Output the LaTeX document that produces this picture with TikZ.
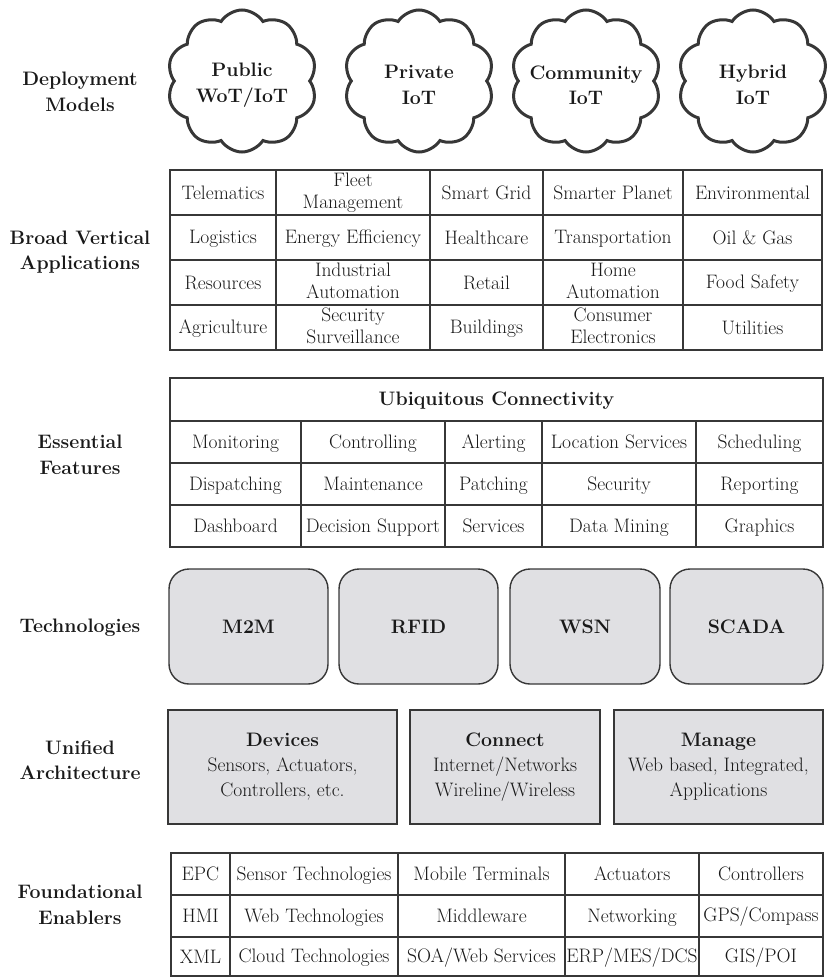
\documentclass[tikz,border=0pt]{standalone}
\usepackage{fontspec}
\usepackage{xcolor}
\usepackage{tikz}
\usetikzlibrary{shapes.symbols, positioning}
\definecolor{linegray}{RGB}{55,55,55}
\definecolor{boxgray}{RGB}{224,224,227}
\definecolor{inkblack}{RGB}{25,25,25}
\newcommand\cellfont{\fontsize{19.5}{22}\selectfont}
\newcommand\headfont{\fontsize{19.5}{25.5}\selectfont\bfseries}

\begin{document}
\begin{tikzpicture}[x=1pt, y=-1pt, text=inkblack,
    layerlabel/.style={align=center, font=\headfont},
    cellbox/.style={draw=linegray, line width=1.9pt, inner sep=0pt, align=center, font=\cellfont,
        execute at begin node={\rule{0pt}{16pt}}, execute at end node={\rule[-3pt]{0pt}{3pt}}},
    modelcloud/.style={cloud, cloud puffs=10, cloud puff arc=115, aspect=1, draw=linegray, line width=3pt,
        minimum width=150pt, minimum height=142pt, inner sep=0pt},
    cloudtext/.style={align=center, font=\headfont},
    techbox/.style={draw=linegray, fill=boxgray, line width=1.4pt, rounded corners=20pt, font=\headfont},
    archbox/.style={draw=linegray, fill=boxgray, line width=2pt, align=center, font=\fontsize{19.5}{25}\selectfont}]
    \useasboundingbox (0,0) rectangle (829,978);

    % layer names
    \node[layerlabel] (lab-dep) at (80,92) {Deployment\\Models};
    \node[layerlabel] (lab-app) at (80,252) {Broad Vertical\\Applications};
    \node[layerlabel] (lab-feat) at (80,455) {Essential\\Features};
    \node[layerlabel] (lab-tech) at (80,628) {Technologies};
    \node[layerlabel] (lab-arch) at (80,760) {Unified\\Architecture};
    \node[layerlabel] (lab-enab) at (80,905) {Foundational\\Enablers};

    % deployment models
    \foreach \name/\cx/\txt in {pub/242/{Public\\WoT/IoT}, priv/419/{Private\\IoT},
                                comm/586/{Community\\IoT}, hyb/753/{Hybrid\\IoT}} {
        \node[modelcloud] (cloud-\name) at (\cx,81) {};
        \node[cloudtext] (model-\name) at (\cx,85) {\txt};
    }

    % broad vertical applications
    \foreach \row/\ya/\yb/\ta/\tb/\tc/\td/\te in {
        1/170/215/Telematics/{Fleet\\Management}/Smart Grid/Smarter Planet/Environmental,
        2/215/260/Logistics/Energy Efficiency/Healthcare/Transportation/Oil \& Gas,
        3/260/305/Resources/{Industrial\\Automation}/Retail/{Home\\Automation}/Food Safety,
        4/305/350/Agriculture/{Security\\Surveillance}/Buildings/{Consumer\\Electronics}/Utilities} {
        \foreach \col/\xa/\xb/\txt in {1/170/276/\ta, 2/276/430/\tb, 3/430/543/\tc, 4/543/683/\td, 5/683/822/\te}
            \node[cellbox, minimum width={(\xb-\xa)*1pt}, minimum height={(\yb-\ya)*1pt}]
                (app-\row-\col) at ({(\xa+\xb)/2},{(\ya+\yb)/2}) {\txt};
    }

    % essential features
    \node[cellbox, font=\headfont, minimum width=653pt, minimum height=43pt] (feat-head) at (496.5,399.5) {Ubiquitous Connectivity};
    \foreach \row/\ya/\yb/\ta/\tb/\tc/\td/\te in {
        1/421/463/Monitoring/Controlling/Alerting/Location Services/Scheduling,
        2/463/505/Dispatching/Maintenance/Patching/Security/Reporting,
        3/505/547/Dashboard/Decision Support/Services/Data Mining/Graphics} {
        \foreach \col/\xa/\xb/\txt in {1/170/301/\ta, 2/301/445/\tb, 3/445/542/\tc, 4/542/696/\td, 5/696/823/\te}
            \node[cellbox, minimum width={(\xb-\xa)*1pt}, minimum height={(\yb-\ya)*1pt}]
                (feat-\row-\col) at ({(\xa+\xb)/2},{(\ya+\yb)/2}) {\txt};
    }

    % technologies
    \foreach \name/\xa/\xb/\txt in {m2m/169/328/M2M, rfid/339/498/RFID, wsn/510/660/WSN, scada/670/823/SCADA}
        \node[techbox, minimum width={(\xb-\xa)*1pt}, minimum height=115pt]
            (tech-\name) at ({(\xa+\xb)/2},626.5) {\txt};

    % unified architecture
    \node[archbox, minimum width=229pt, minimum height=114pt] (arch-dev) at (282.5,767)
        {\textbf{Devices}\\Sensors, Actuators,\\Controllers, etc.};
    \node[archbox, minimum width=190pt, minimum height=114pt] (arch-conn) at (505,767)
        {\textbf{Connect}\\Internet/Networks\\Wireline/Wireless};
    \node[archbox, minimum width=209pt, minimum height=114pt] (arch-man) at (718.5,767)
        {\textbf{Manage}\\Web based, Integrated,\\Applications};

    % foundational enablers
    \foreach \row/\ya/\yb/\ta/\tb/\tc/\td/\te in {
        1/853/895/EPC/Sensor Technologies/Mobile Terminals/Actuators/Controllers,
        2/895/937/HMI/Web Technologies/Middleware/Networking/{GPS/Compass},
        3/937/976/XML/Cloud Technologies/{SOA/Web Services}/{ERP/MES/DCS}/{GIS/POI}} {
        \foreach \col/\xa/\xb/\txt in {1/171/230/\ta, 2/230/398/\tb, 3/398/565/\tc, 4/565/699/\td, 5/699/823/\te}
            \node[cellbox, minimum width={(\xb-\xa)*1pt}, minimum height={(\yb-\ya)*1pt}]
                (enab-\row-\col) at ({(\xa+\xb)/2},{(\ya+\yb)/2}) {\txt};
    }
\end{tikzpicture}
\end{document}
